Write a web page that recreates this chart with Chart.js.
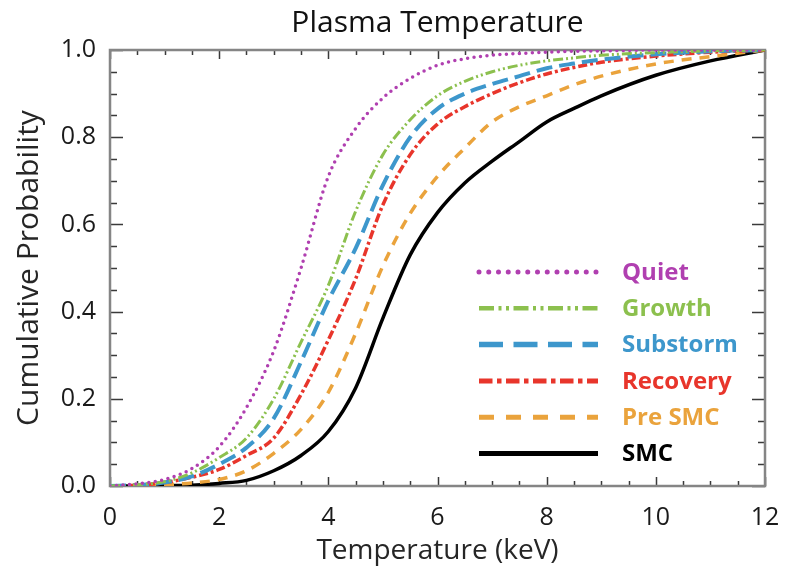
<!DOCTYPE html>
<html>
<head>
<meta charset="utf-8">
<title>Plasma Temperature</title>
<script src="https://cdn.jsdelivr.net/npm/chart.js@4/dist/chart.umd.min.js"></script>
<style>
  html, body { margin: 0; padding: 0; background: #fff; }
</style>
</head>
<body>
<canvas id="myChart" width="791" height="572"></canvas>
<script>
// temperature grid (keV) and cumulative probability per phase
const temps    = [0, 0.5, 1, 1.5, 2, 2.5, 3, 3.5, 4, 4.5, 5, 5.5, 6, 6.5, 7, 7.5, 8, 8.5, 9, 10, 11, 12];
const quiet    = [0, .005, .015, .04, .09, .18, .31, .50, .71, .82, .89, .935, .965, .98, .988, .992, .995, .997, .998, 1, 1, 1];
const growth   = [0, .003, .01, .03, .065, .11, .20, .33, .46, .63, .76, .84, .895, .928, .95, .965, .975, .982, .988, .994, .998, 1];
const substorm = [0, .002, .008, .022, .05, .088, .155, .285, .425, .545, .69, .80, .865, .90, .922, .94, .958, .969, .978, .99, .997, 1];
const recovery = [0, .002, .008, .02, .038, .07, .11, .21, .335, .475, .645, .76, .83, .87, .90, .925, .945, .96, .972, .986, .995, 1];
const preSmc   = [0, .001, .003, .007, .015, .035, .075, .13, .215, .35, .505, .625, .71, .775, .835, .87, .895, .92, .94, .968, .985, 1];
const smc      = [0, 0, .001, .002, .006, .013, .035, .07, .125, .225, .385, .53, .627, .695, .745, .79, .835, .866, .895, .942, .975, 1];

const xTicks = [0, 2, 4, 6, 8, 10, 12];
const yTicks = [0, 0.2, 0.4, 0.6, 0.8, 1.0];

const FONT = "'Open Sans', 'DejaVu Sans', sans-serif";
Chart.defaults.font.family = FONT;

function pts(vals) {
  return temps.map((t, i) => ({ x: t, y: vals[i] }));
}

const series = [
  { label: 'Quiet',    vals: quiet,    color: '#b03fb0', dash: [0, 6.5], width: 3.5, cap: 'round' },
  { label: 'Growth',   vals: growth,   color: '#8cc04e', dash: [10, 3, 2, 3, 2, 3], width: 3, cap: 'butt' },
  { label: 'Substorm', vals: substorm, color: '#3d97cc', dash: [16, 7], width: 4, cap: 'butt' },
  { label: 'Recovery', vals: recovery, color: '#e8352b', dash: [9, 3, 3, 3], width: 3.5, cap: 'butt' },
  { label: 'Pre SMC',  vals: preSmc,   color: '#eaa33c', dash: [10, 8], width: 3.5, cap: 'butt' },
  { label: 'SMC',      vals: smc,      color: '#000000', dash: [], width: 3.5, cap: 'butt' }
];

// boxed frame with inward major/minor ticks on all four sides
const frameTicks = {
  id: 'frameTicks',
  beforeDatasetsDraw(chart) {
    const { ctx, chartArea: a, scales: { x, y } } = chart;
    ctx.save();
    ctx.strokeStyle = '#3a3a3a';
    ctx.lineWidth = 1.5;
    ctx.beginPath();
    for (let i = 0; i <= 24; i++) {
      const v = i * 0.5;
      const px = Math.round(x.getPixelForValue(v)) + 0.5;
      const len = i % 4 === 0 ? 9 : 5;
      ctx.moveTo(px, a.bottom); ctx.lineTo(px, a.bottom - len);
      ctx.moveTo(px, a.top); ctx.lineTo(px, a.top + len);
    }
    for (let i = 0; i <= 20; i++) {
      const v = i * 0.05;
      const py = Math.round(y.getPixelForValue(v)) + 0.5;
      const len = i % 4 === 0 ? 13 : 7;
      ctx.moveTo(a.left, py); ctx.lineTo(a.left + len, py);
      ctx.moveTo(a.right, py); ctx.lineTo(a.right - len, py);
    }
    ctx.stroke();
    ctx.strokeStyle = '#858585';
    ctx.lineWidth = 2.5;
    ctx.strokeRect(a.left, a.top, a.right - a.left, a.bottom - a.top);
    ctx.restore();
  }
};

// legend drawn inside the plot, lower right
const insideLegend = {
  id: 'insideLegend',
  afterDatasetsDraw(chart) {
    const { ctx } = chart;
    const x0 = 479, x1 = 598, tx = 622, y0 = 272, dy = 36.3;
    ctx.save();
    series.forEach((s, i) => {
      const yy = y0 + i * dy;
      ctx.strokeStyle = s.color;
      ctx.lineWidth = s.width + 1.5;
      ctx.lineCap = s.cap;
      ctx.setLineDash(s.dash.map(d => d * 1.5));
      ctx.beginPath();
      ctx.moveTo(x0, yy);
      ctx.lineTo(x1, yy);
      ctx.stroke();
      ctx.setLineDash([]);
      ctx.fillStyle = s.color;
      ctx.font = "bold 24px " + FONT;
      ctx.textBaseline = 'middle';
      ctx.textAlign = 'left';
      ctx.fillText(s.label, tx, yy + 1);
    });
    ctx.restore();
  }
};

const ctx = document.getElementById('myChart').getContext('2d');

new Chart(ctx, {
  type: 'line',
  data: {
    datasets: series.map(s => ({
      label: s.label,
      data: pts(s.vals),
      borderColor: s.color,
      backgroundColor: s.color,
      borderWidth: s.width,
      borderDash: s.dash,
      borderCapStyle: s.cap,
      pointRadius: 0,
      fill: false,
      cubicInterpolationMode: 'monotone'
    }))
  },
  options: {
    responsive: false,
    animation: false,
    layout: { padding: { left: 0, right: 26, top: 0, bottom: 0 } },
    plugins: {
      legend: { display: false },
      tooltip: { enabled: false },
      title: {
        display: true,
        fullSize: false,
        text: 'Plasma Temperature',
        color: '#111',
        font: { size: 30, weight: 'normal' },
        padding: { top: 5, bottom: 9 }
      }
    },
    scales: {
      x: {
        type: 'linear',
        min: 0,
        max: 12,
        grid: { display: false, drawTicks: false },
        border: { display: false },
        afterBuildTicks(s) { s.ticks = xTicks.map(v => ({ value: v })); },
        ticks: {
          padding: 17,
          color: '#1a1a1a',
          font: { size: 25 },
          callback: v => String(v)
        },
        title: {
          display: true,
          text: 'Temperature (keV)',
          color: '#262626',
          font: { size: 28 },
          padding: { top: 0, bottom: 4 }
        },
        afterFit(s) { s.height = 86; s.paddingLeft = 0; s.paddingRight = 0; }
      },
      y: {
        min: 0,
        max: 1,
        grid: { display: false, drawTicks: false },
        border: { display: false },
        afterBuildTicks(s) { s.ticks = yTicks.map(v => ({ value: v })); },
        ticks: {
          padding: 14,
          color: '#1a1a1a',
          font: { size: 25 },
          callback: v => Number(v).toFixed(1)
        },
        title: {
          display: true,
          text: 'Cumulative Probability',
          color: '#262626',
          font: { size: 30 },
          padding: { top: 11, bottom: 0 }
        },
        afterFit(s) { s.width = 110; s.paddingTop = 0; s.paddingBottom = 0; }
      }
    }
  },
  plugins: [frameTicks, insideLegend]
});
</script>
</body>
</html>
